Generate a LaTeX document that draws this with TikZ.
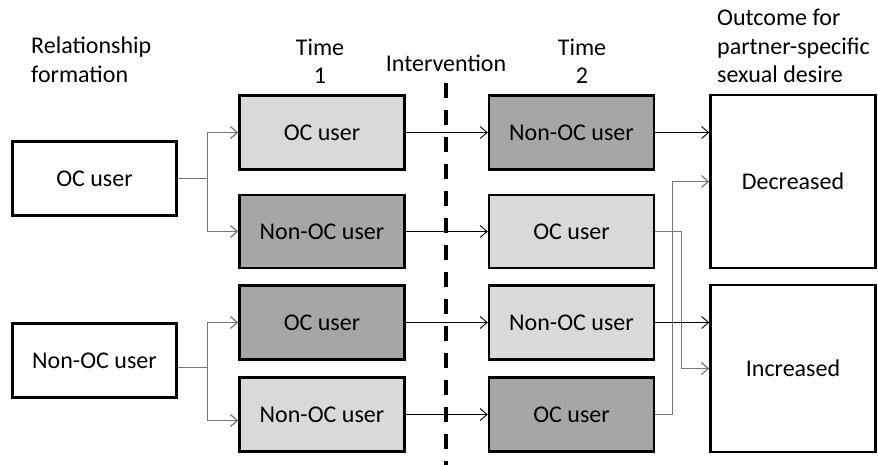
\documentclass[tikz,border=0pt]{standalone}
\usepackage{fontspec}
\setmainfont{Carlito}
\usetikzlibrary{arrows.meta,positioning}

\definecolor{boxpale}{HTML}{D9D9D9}
\definecolor{boxdark}{HTML}{A6A6A6}
\definecolor{branchgray}{HTML}{777777}

\begin{document}
\begin{tikzpicture}[
    x=1pt, y=-1pt,
    >={Straight Barb[length=7pt,width=12pt]},
    every node/.style={font=\fontsize{24}{28.5}\selectfont},
    box/.style={
        draw,
        line width=2.5pt,
        align=center,
        inner sep=0pt,
        minimum width=165pt,
        minimum height=74pt
    },
    palebox/.style={box, fill=boxpale},
    darkbox/.style={box, fill=boxdark},
    head/.style={align=center, inner sep=0pt},
    cut/.style={line width=4pt, dash pattern=on 15pt off 12pt},
    line/.style={->, line width=0.9pt},
    branch/.style={->, line width=1.2pt, draw=branchgray}
]

\useasboundingbox (0,0) rectangle (878,465);

% Headings
\node[head, align=left, anchor=west] (relhead) at (31,60) {Relationship\\formation};
\node[head] (t1head) at (320,61) {Time\\1};
\node[head] (inthead) at (446,63) {Intervention};
\node[head] (t2head) at (582,61) {Time\\2};
\node[head, align=left, anchor=west] (outhead) at (717,46)
{Outcome for\\partner-specific\\sexual desire};

% Intervention cut
\coordinate (cuttop) at (446,83);
\coordinate (cutbot) at (446,465);
\draw[cut] (cuttop) -- (cutbot);

% Relationship formation
\node[box, minimum width=164pt] (ocstart) at (94.5,178.5) {OC user};
\node[box, minimum width=164pt] (nonstart) at (94.5,360.5) {Non-OC user};

% Time 1
\node[palebox] (t1a) at (322,132.5) {OC user};
\node[darkbox, minimum height=73pt] (t1b) at (322,231.5) {Non-OC user};
\node[darkbox] (t1c) at (322,322.5) {OC user};
\node[palebox] (t1d) at (322,414.5) {Non-OC user};

% Time 2
\node[darkbox, right=82pt of t1a] (t2a) {Non-OC user};
\node[palebox, minimum height=73pt, right=82pt of t1b] (t2b) {OC user};
\node[palebox, right=82pt of t1c] (t2c) {Non-OC user};
\node[darkbox, right=82pt of t1d] (t2d) {OC user};

% Outcome
\node[box, minimum height=173pt] (dec) at (793,181.5) {Decreased};
\node[box, minimum height=167pt] (inc) at (793,368.5) {Increased};

% Arrows
\draw[branch, -] (ocstart.east) -- ++(30,0) coordinate (forka);
\draw[branch] (forka) |- (t1a.west);
\draw[branch] (forka) |- (t1b.west);

\draw[branch, -] ([yshift=-7pt]nonstart.east) -- ++(30,0) coordinate (forkb);
\draw[branch] (forkb) |- (t1c.west);
\draw[branch] (forkb) |- ([yshift=-6pt]t1d.west);

\draw[line] (t1a) -- (t2a);
\draw[line] (t1b) -- (t2b);
\draw[line] (t1c) -- (t2c);
\draw[line] (t1d) -- (t2d);

\draw[line] (t2a.east) -- (t2a.east -| dec.west);
\draw[line] (t2c.east) -- (t2c.east -| inc.west);
\draw[branch] (t2b.east) -- ++(26,0) |- (inc.west);
\draw[branch] (t2d.east) -- ++(17,0) |- (dec.west);

\end{tikzpicture}
\end{document}
